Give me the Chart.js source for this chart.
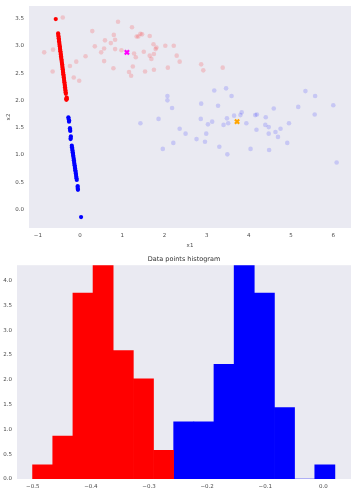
<!DOCTYPE html>
<html>
<head>
<meta charset="utf-8">
<script src="https://cdn.jsdelivr.net/npm/chart.js@4/dist/chart.umd.min.js"></script>
<style>
	html, body { margin: 0; padding: 0; background: #ffffff; }
	#wrap { position: relative; width: 351px; height: 490px; }
	#scatterBox { position: absolute; left: 0; top: 0; width: 351px; height: 250px; }
	#histBox { position: absolute; left: 0; top: 250px; width: 351px; height: 240px; }
</style>
</head>
<body>
<div id="wrap">
	<div id="scatterBox"><canvas id="scatterChart" width="351" height="250"></canvas></div>
	<div id="histBox"><canvas id="histChart" width="351" height="240"></canvas></div>
</div>
<script>
// scatter: pale cluster points
var pinkX = [-0.41, 0.90, 0.29, 0.80, 0.83, 0.59, 0.73, 0.35, 0.57, 0.83, 0.98, 0.50, -0.85, -0.64, 0.13, -0.09, 0.57, -0.24, 0.79, -0.65, -0.15, -0.02,
	1.23, 1.43, 1.47, 1.34, 1.38, 1.65, 1.74, 1.79, 1.81, 2.02, 2.22, 1.51, 1.28, 1.75, 1.65, 1.32, 1.69, 2.29, 2.36, 1.25, 2.08, 2.87, 2.92, 3.38, 1.16, 1.21, 1.54, 1.75];
var pinkY = [3.52, 3.44, 3.27, 3.20, 3.11, 3.10, 3.05, 2.99, 2.95, 2.94, 2.92, 2.88, 2.88, 2.93, 2.81, 2.71, 2.72, 2.63, 2.59, 2.53, 2.42, 2.36,
	3.34, 3.22, 3.21, 3.17, 3.17, 3.18, 3.03, 2.94, 2.97, 3.00, 3.00, 2.89, 2.86, 2.85, 2.82, 2.79, 2.76, 2.82, 2.71, 2.62, 2.60, 2.66, 2.55, 2.60, 2.52, 2.45, 2.53, 2.56];

var lavX = [3.18, 3.46, 3.59, 2.07, 2.07, 2.18, 2.87, 3.27, 1.43, 1.86, 2.86, 3.13, 3.03, 3.48, 3.40, 3.51, 3.65, 2.36, 2.50, 2.99, 2.76, 2.96, 2.21, 1.96, 3.30, 3.49,
	5.34, 5.57, 5.17, 6.00, 5.56, 4.59, 3.83, 3.80, 4.15, 4.19, 4.40, 3.94, 4.95, 4.39, 4.47, 4.75, 4.18, 4.63, 4.47, 4.69, 4.91, 4.04, 4.48, 6.08];
var lavY = [2.18, 2.22, 2.08, 2.08, 2.00, 1.86, 1.94, 1.90, 1.58, 1.66, 1.66, 1.61, 1.56, 1.67, 1.55, 1.58, 1.72, 1.48, 1.39, 1.39, 1.29, 1.24, 1.22, 1.11, 1.15, 1.01,
	2.17, 2.08, 1.88, 1.91, 1.74, 1.85, 1.78, 1.73, 1.73, 1.74, 1.69, 1.58, 1.58, 1.55, 1.51, 1.48, 1.46, 1.42, 1.39, 1.33, 1.22, 1.11, 1.09, 0.86];

// scatter: dense projected points
var redX = [-0.576, -0.520, -0.516, -0.510, -0.506, -0.500, -0.497, -0.490, -0.487, -0.480, -0.476, -0.471, -0.466, -0.460, -0.456, -0.450, -0.447, -0.440, -0.436, -0.431,
	-0.425, -0.420, -0.416, -0.410, -0.405, -0.401, -0.396, -0.390, -0.386, -0.380, -0.376, -0.370, -0.366, -0.360, -0.356, -0.351, -0.346, -0.341, -0.337,
	-0.322, -0.318, -0.325, -0.316];
var redY = [3.49, 3.23, 3.20, 3.17, 3.14, 3.11, 3.08, 3.05, 3.02, 2.99, 2.96, 2.93, 2.90, 2.87, 2.84, 2.81, 2.78, 2.75, 2.72, 2.69,
	2.66, 2.63, 2.60, 2.57, 2.54, 2.51, 2.48, 2.45, 2.42, 2.39, 2.36, 2.33, 2.30, 2.27, 2.24, 2.21, 2.18, 2.15, 2.12,
	2.04, 2.02, 2.01, 2.05];

var blueX = [-0.277, -0.272, -0.262, -0.258, -0.236, -0.240, -0.232, -0.222, -0.218, -0.225,
	-0.196, -0.191, -0.185, -0.180, -0.174, -0.168, -0.163, -0.157, -0.151, -0.146, -0.140, -0.135, -0.129, -0.123, -0.118, -0.112, -0.106, -0.101, -0.095, -0.090, -0.084, -0.078,
	-0.058, -0.054, -0.050, -0.056, 0.024];
var blueY = [1.69, 1.66, 1.61, 1.63, 1.46, 1.49, 1.44, 1.31, 1.34, 1.29,
	1.17, 1.14, 1.11, 1.08, 1.05, 1.02, 0.99, 0.96, 0.93, 0.90, 0.87, 0.84, 0.81, 0.78, 0.75, 0.72, 0.69, 0.66, 0.63, 0.60, 0.57, 0.54,
	0.41, 0.38, 0.36, 0.43, -0.14];

var centroidX = [1.11, 3.72];
var centroidY = [2.88, 1.61];

var scatterXTicks = [-1, 0, 1, 2, 3, 4, 5, 6];
var scatterYTicks = [0, 0.5, 1, 1.5, 2, 2.5, 3, 3.5];

// histogram
var redBinCenters = [-0.4829, -0.4482, -0.4135, -0.3789, -0.3442, -0.3095, -0.2749];
var redHeights = [0.288, 0.865, 3.75, 4.33, 2.59, 2.02, 0.577];
var blueBinCenters = [-0.2402, -0.2055, -0.1709, -0.1362, -0.1015, -0.0669, -0.0322, 0.0025];
var blueHeights = [1.15, 1.15, 2.31, 4.33, 3.75, 1.44, 0, 0.288];
var histXTicks = [-0.5, -0.4, -0.3, -0.2, -0.1, 0.0];
var histYTicks = [0, 0.5, 1, 1.5, 2, 2.5, 3, 3.5, 4];

var tickFont = { family: 'DejaVu Sans', size: 5.5 };
var tickColor = '#4a4a4a';

function pts(xs, ys) {
	return xs.map(function (x, i) { return { x: x, y: ys[i] }; });
}

function minus(v, digits) {
	var s = digits == null ? String(v) : v.toFixed(digits);
	return s.replace('-', '\u2212');
}

var areaBg = {
	id: 'areaBg',
	beforeDraw: function (chart) {
		var a = chart.chartArea;
		var ctx = chart.ctx;
		ctx.save();
		ctx.fillStyle = '#eaeaf2';
		ctx.fillRect(a.left, a.top, a.right - a.left, a.bottom - a.top);
		ctx.restore();
	}
};

function fixedTicks(list) {
	return function (scale) {
		scale.ticks = list.map(function (v) { return { value: v }; });
	};
}

// fixed axis thickness, no extra side padding for edge labels
function fitX(h) {
	return function (s) { s.height = h; s.paddingLeft = 0; s.paddingRight = 0; };
}
function fitY(w) {
	return function (s) { s.width = w; s.paddingTop = 0; s.paddingBottom = 0; };
}

new Chart(document.getElementById('scatterChart'), {
	type: 'scatter',
	data: {
		datasets: [
			{ data: pts(pinkX, pinkY), backgroundColor: 'rgba(255,0,0,0.16)', borderWidth: 0, pointRadius: 2.3 },
			{ data: pts(lavX, lavY), backgroundColor: 'rgba(0,0,255,0.15)', borderWidth: 0, pointRadius: 2.3 },
			{ data: pts(redX, redY), backgroundColor: '#ff0000', borderWidth: 0, pointRadius: 2.1 },
			{ data: pts(blueX, blueY), backgroundColor: '#0000ff', borderWidth: 0, pointRadius: 2.1 },
			{ data: pts(centroidX.slice(0, 1), centroidY.slice(0, 1)), pointStyle: 'crossRot', borderColor: '#ff00ff', borderWidth: 2.2, pointRadius: 3 },
			{ data: pts(centroidX.slice(1), centroidY.slice(1)), pointStyle: 'crossRot', borderColor: '#ffa500', borderWidth: 2.2, pointRadius: 3 }
		]
	},
	options: {
		responsive: false,
		animation: false,
		events: [],
		layout: { autoPadding: false, padding: { top: 6, right: 0, left: 0, bottom: 0 } },
		plugins: { legend: { display: false }, tooltip: { enabled: false } },
		scales: {
			x: {
				type: 'linear', min: -1.21, max: 6.42,
				grid: { display: false, drawTicks: false },
				border: { display: false },
				afterBuildTicks: fixedTicks(scatterXTicks),
				afterFit: fitX(22),
				ticks: { font: tickFont, color: tickColor, padding: 4, maxRotation: 0, callback: function (v) { return minus(v); } },
				title: { display: true, text: 'x1', font: tickFont, color: tickColor, padding: { top: 0, bottom: 1.4 } }
			},
			y: {
				type: 'linear', min: -0.34, max: 3.73,
				grid: { display: false, drawTicks: false },
				border: { display: false },
				afterBuildTicks: fixedTicks(scatterYTicks),
				afterFit: fitY(29),
				ticks: { font: tickFont, color: tickColor, padding: 5, callback: function (v) { return minus(v, 1); } },
				title: { display: true, text: 'x2', font: tickFont, color: tickColor, padding: { top: 5.4, bottom: 0 } }
			}
		}
	},
	plugins: [areaBg]
});

new Chart(document.getElementById('histChart'), {
	type: 'bar',
	data: {
		datasets: [
			{ data: pts(redBinCenters, redHeights), backgroundColor: '#ff0000', borderWidth: 0, barPercentage: 1, categoryPercentage: 1, grouped: false },
			{ data: pts(blueBinCenters, blueHeights), backgroundColor: '#0000ff', borderWidth: 0, barPercentage: 1, categoryPercentage: 1, grouped: false }
		]
	},
	options: {
		responsive: false,
		animation: false,
		events: [],
		layout: { autoPadding: false, padding: 0 },
		plugins: {
			legend: { display: false },
			tooltip: { enabled: false },
			title: {
				display: true, text: 'Data points histogram', fullSize: false,
				font: { family: 'DejaVu Sans', size: 6.5, weight: 'normal' }, color: '#333333',
				padding: { top: 5, bottom: 2.4 }
			}
		},
		scales: {
			x: {
				type: 'linear', min: -0.527, max: 0.0475, offset: false,
				grid: { display: false, drawTicks: false },
				border: { display: false },
				afterBuildTicks: fixedTicks(histXTicks),
				afterFit: fitX(11),
				ticks: { font: tickFont, color: tickColor, padding: 4, maxRotation: 0, callback: function (v) { return minus(v, 1); } }
			},
			y: {
				type: 'linear', min: 0, max: 4.31,
				grid: { display: false, drawTicks: false },
				border: { display: false },
				afterBuildTicks: fixedTicks(histYTicks),
				afterFit: fitY(17),
				ticks: { font: tickFont, color: tickColor, padding: 5, callback: function (v) { return v.toFixed(1); } }
			}
		}
	},
	plugins: [areaBg]
});
</script>
</body>
</html>
